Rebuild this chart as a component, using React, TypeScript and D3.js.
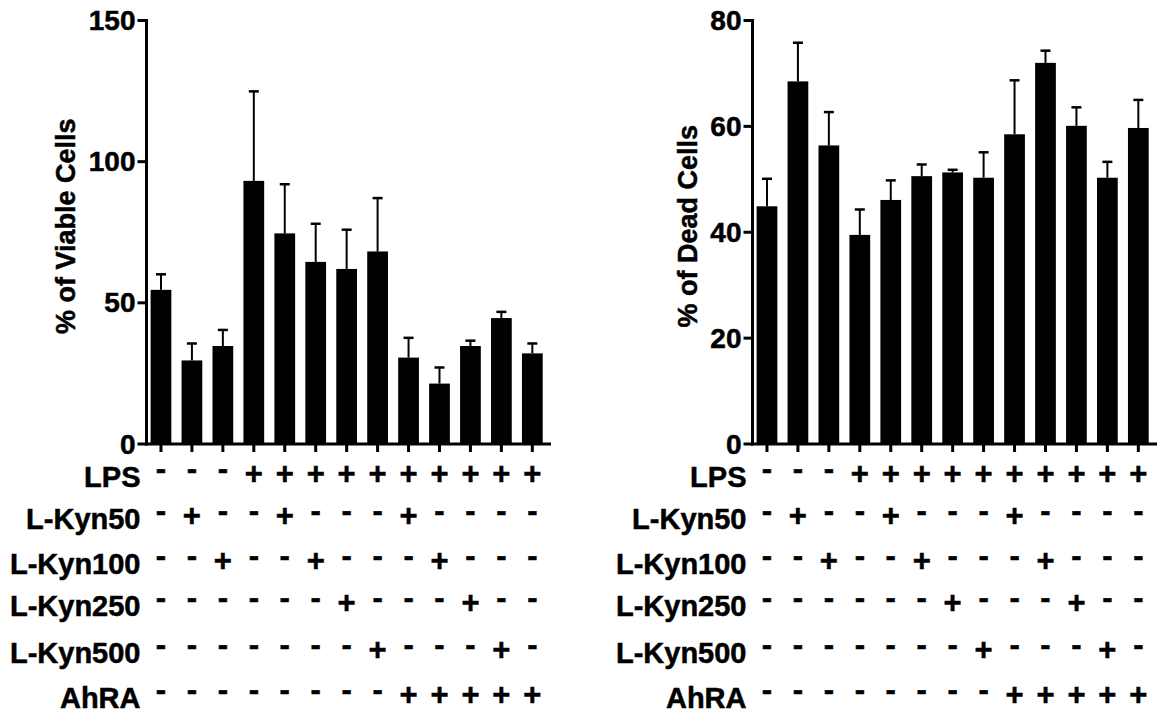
import React from "react";
import * as d3 from "d3";

// ---- data ----
const groups = d3.range(13);
const viableMean = [54.6, 29.6, 34.7, 93.2, 74.6, 64.5, 62.0, 68.2, 30.6, 21.4, 34.7, 44.6, 32.1];
const viableErr = [5.5, 6.0, 5.7, 31.7, 17.4, 13.5, 13.9, 18.9, 7.0, 5.7, 1.9, 2.2, 3.5];
const deadMean = [44.9, 68.5, 56.4, 39.5, 46.1, 50.6, 51.3, 50.3, 58.5, 72.0, 60.1, 50.3, 59.7];
const deadErr = [5.2, 7.3, 6.3, 4.8, 3.7, 2.2, 0.5, 4.8, 10.2, 2.3, 3.5, 3.0, 5.3];
const viableTicks = [0, 50, 100, 150];
const deadTicks = [0, 20, 40, 60, 80];

const rowLabels = ["LPS", "L-Kyn50", "L-Kyn100", "L-Kyn250", "L-Kyn500", "AhRA"];
const rowLPS = "---++++++++++";
const rowKyn50 = "-+--+---+----";
const rowKyn100 = "--+--+---+---";
const rowKyn250 = "------+---+--";
const rowKyn500 = "-------+---+-";
const rowAhRA = "--------+++++";
const rows = [rowLPS, rowKyn50, rowKyn100, rowKyn250, rowKyn500, rowAhRA];

// ---- layout ----
const W = 1163;
const H = 713;
const yTop = 20.5;
const yBottom = 444;
const rowBaselines = [487, 529, 574, 616, 663, 708];
const FONT = "'Liberation Sans', Arial, Helvetica, sans-serif";
const txt = {
  fontFamily: FONT,
  fontWeight: "bold" as const,
  fill: "#000",
  stroke: "#000",
  strokeWidth: 0.5,
};

type PanelProps = {
  axisX: number;
  yMax: number;
  ticks: number[];
  means: number[];
  errs: number[];
  title: string;
  titleX: number;
};

function Panel({ axisX, yMax, ticks, means, errs, title, titleX }: PanelProps) {
  const x = d3
    .scaleBand<number>()
    .domain(groups)
    .range([axisX - 1, axisX + 401.3])
    .paddingInner(0.33)
    .paddingOuter(0.165);
  const y = d3.scaleLinear().domain([0, yMax]).range([yBottom, yTop]);
  const bw = x.bandwidth();
  const cx = (i: number) => (x(i) as number) + bw / 2;
  const capW = 10;
  return (
    <g>
      {groups.map((i) => (
        <rect
          key={"b" + i}
          x={x(i)}
          y={y(means[i])}
          width={bw}
          height={y(0) - y(means[i])}
          fill="#000"
        />
      ))}
      {groups.map((i) => {
        const top = y(means[i] + errs[i]);
        return (
          <g key={"e" + i} stroke="#000">
            <line x1={cx(i)} x2={cx(i)} y1={y(means[i])} y2={top} strokeWidth={2} />
            <line x1={cx(i) - capW / 2} x2={cx(i) + capW / 2} y1={top} y2={top} strokeWidth={2.5} />
          </g>
        );
      })}
      <line x1={axisX} x2={axisX} y1={yTop - 1.5} y2={yBottom + 1.5} stroke="#000" strokeWidth={3} />
      {ticks.map((t) => (
        <g key={"yt" + t}>
          <line x1={axisX - 9} x2={axisX} y1={y(t)} y2={y(t)} stroke="#000" strokeWidth={3} />
          <text
            x={axisX - 11}
            y={y(t)}
            textAnchor="end"
            dominantBaseline="central"
            fontSize={28}
            {...txt}
          >
            {t}
          </text>
        </g>
      ))}
      <line x1={axisX - 1.5} x2={axisX + 404.5} y1={yBottom} y2={yBottom} stroke="#000" strokeWidth={3} />
      {groups.map((i) => (
        <line key={"xt" + i} x1={cx(i)} x2={cx(i)} y1={yBottom} y2={yBottom + 8} stroke="#000" strokeWidth={3} />
      ))}
      <text
        transform={`translate(${titleX},${(yTop + yBottom) / 2 - 6}) rotate(-90)`}
        textAnchor="middle"
        fontSize={27}
        {...txt}
      >
        {title}
      </text>
      {rows.map((r, ri) => (
        <g key={"r" + ri}>
          <text x={axisX - 6} y={rowBaselines[ri]} textAnchor="end" fontSize={29} {...txt}>
            {rowLabels[ri]}
          </text>
          {r.split("").map((s, i) => (
            <text
              key={i}
              x={cx(i)}
              y={rowBaselines[ri] - (s === "+" ? 3 : 8)}
              textAnchor="middle"
              fontSize={31}
              {...txt}
            >
              {s}
            </text>
          ))}
        </g>
      ))}
    </g>
  );
}

export default function App() {
  return (
    <svg
      width={W}
      height={H}
      viewBox={`0 0 ${W} ${H}`}
      style={{ position: "absolute", left: 0, top: 0, background: "#fff" }}
    >
      <rect x={0} y={0} width={W} height={H} fill="#fff" />
      <Panel
        axisX={146.5}
        yMax={150}
        ticks={viableTicks}
        means={viableMean}
        errs={viableErr}
        title="% of Viable Cells"
        titleX={75}
      />
      <Panel
        axisX={752.5}
        yMax={80}
        ticks={deadTicks}
        means={deadMean}
        errs={deadErr}
        title="% of Dead Cells"
        titleX={697}
      />
    </svg>
  );
}
